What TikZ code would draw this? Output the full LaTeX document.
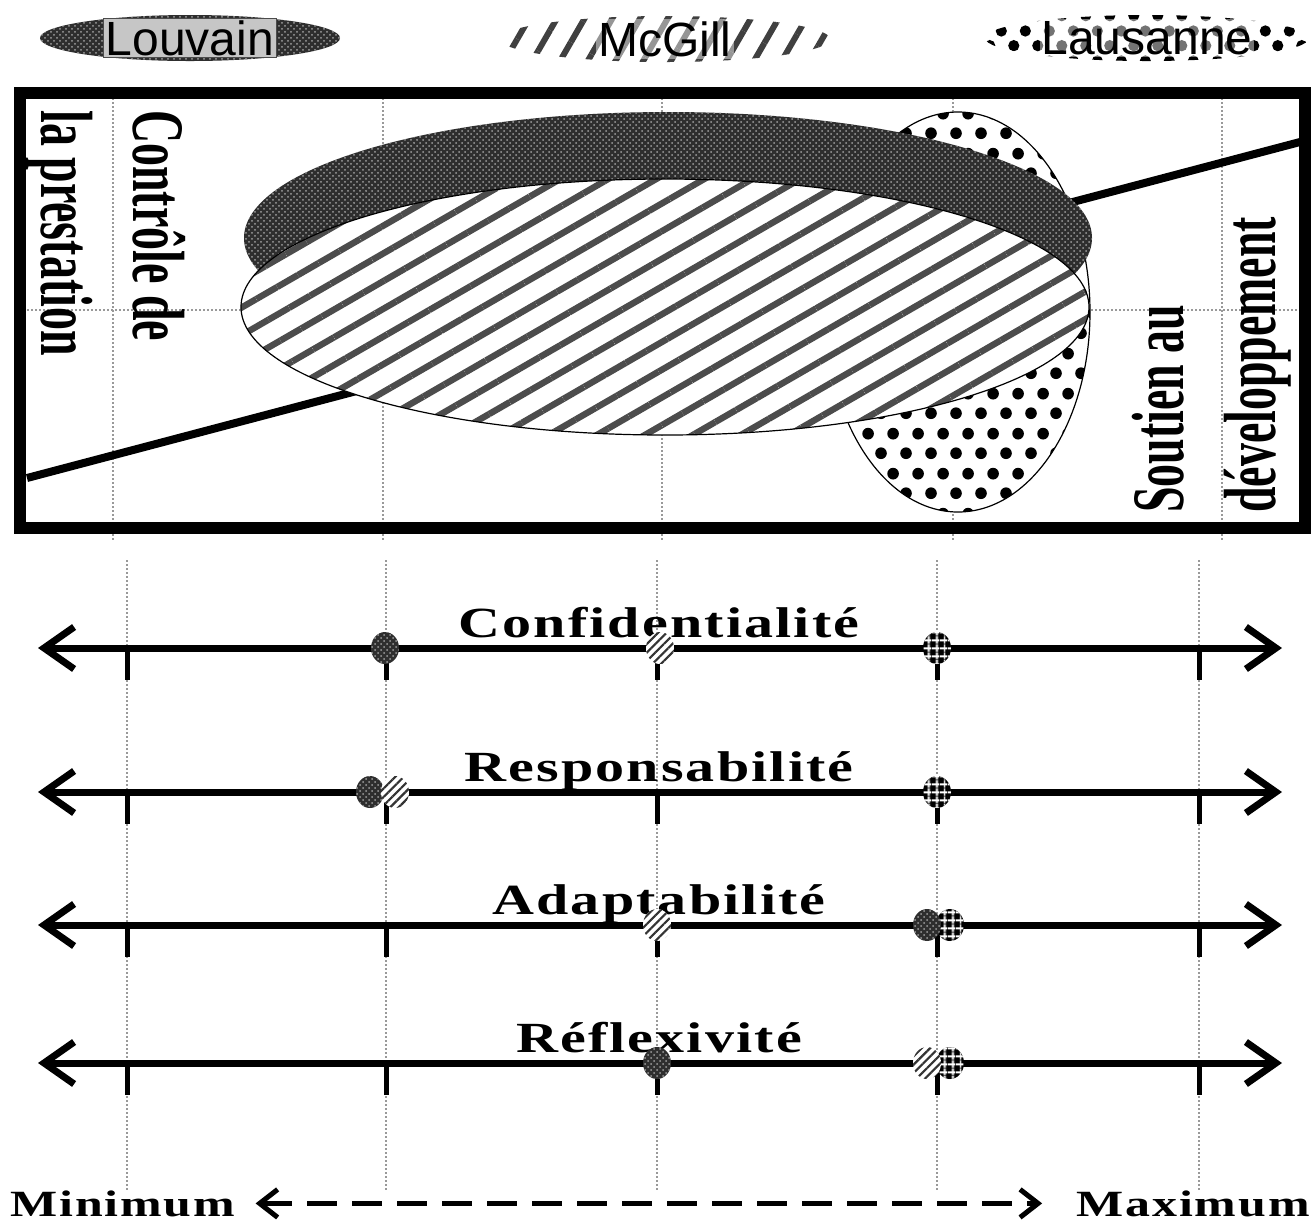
\documentclass[tikz,border=0pt]{standalone}
\usepackage{fontspec}
\setmainfont{Liberation Serif}
\newfontfamily\legfont{Liberation Sans}
\newfontfamily\tallfont[FakeStretch=0.62]{Liberation Serif Bold}
\newfontfamily\widefont[FakeStretch=1.35,LetterSpace=5]{Liberation Serif Bold}
\usepackage{tikz}
\usetikzlibrary{arrows.meta,patterns,patterns.meta,shapes.geometric}

\tikzdeclarepattern{name=bigdots,type=uncolored,
  bounding box={(0pt,0pt) and (12.5pt,20pt)},tile size={(12.5pt,20pt)},
  code={\fill (3.125pt,5pt) circle (3pt); \fill (9.375pt,15pt) circle (3pt);}}
\tikzdeclarepattern{name=meddots,type=uncolored,
  bounding box={(0pt,0pt) and (12pt,15pt)},tile size={(12pt,15pt)},
  code={\fill (3pt,3.75pt) circle (2.9pt); \fill (9pt,11.25pt) circle (2.9pt);}}

\tikzset{
  louv/.style={preaction={fill=black!82},pattern=crosshatch dots,pattern color=gray!75},
  mcgbig/.style={preaction={fill=white},pattern={Lines[angle=30,distance=12pt,line width=3.2pt]},pattern color=black!70,draw=black,line width=.6pt},
  lausbig/.style={preaction={fill=white},pattern=bigdots,pattern color=black,draw=black,line width=.6pt},
  mcgleg/.style={pattern={Lines[angle=60,distance=12pt,line width=3pt]},pattern color=black!75},
  lausleg/.style={pattern=meddots,pattern color=black},
  dotlouv/.style={louv},
  dotmcg/.style={preaction={fill=white},pattern={Lines[angle=45,distance=3pt,line width=1.1pt]},pattern color=black!80},
  dotlaus/.style={preaction={fill=black},pattern={Lines[angle=0,distance=4pt,line width=1pt]},pattern color=white,
    postaction={pattern={Lines[angle=90,distance=4pt,line width=1pt]},pattern color=white}},
  gridline/.style={gray!80,line width=1pt,densely dotted},
  axis/.style={line width=3.5pt,>={Straight Barb[length=15pt,width=21pt]},<->},
  tick/.style={line width=2.5pt},
  scalearrow/.style={line width=2.5pt,dash pattern=on 15pt off 7.5pt,>={Straight Barb[length=9pt,width=14pt]},<->,
    shorten <=10pt,shorten >=17pt},
  axlabel/.style={font=\widefont\fontsize{21.5}{24}\selectfont,inner sep=0pt},
  endlabel/.style={font=\widefont\fontsize{18.5}{21}\selectfont,inner sep=0pt},
  boxtext/.style={font=\tallfont\fontsize{37}{46}\selectfont,align=left,inner sep=0pt},
  legell/.style={ellipse,minimum width=#1,minimum height=23pt,inner sep=0pt},
  legtext/.style={font=\legfont\fontsize{24}{26}\selectfont,inner sep=1pt},
  veil/.style={fill=white,fill opacity=.45,text opacity=1}
}

\begin{document}
\begin{tikzpicture}[x=0.5pt,y=-0.5pt]
  \useasboundingbox (0,0) rectangle (1312,1223);
  % legend
  \node[legell=150pt,louv] (leg-louv) at (190,38) {};
  \node[legtext,fill=gray!45,draw=black!70,line width=.5pt] (louvain) at (leg-louv) {Louvain};
  \node[legell=165pt,mcgleg] (leg-mcg) at (665,39) {};
  \node[legtext,veil] (mcgill) at (leg-mcg) {McGill};
  \node[legell=162pt,lausleg] (leg-laus) at (1147,38) {};
  \node[legtext,veil] (lausanne) at (leg-laus) {Lausanne};

  % frame with the three profiles
  \foreach \gx in {113,383,662,953,1222} \draw[gridline] (\gx,98) -- (\gx,540);
  \draw[gridline] (27,310) -- (1300,310);
  \draw[line width=4pt] (27,478) -- (1300,142);
  \draw[lausbig] (958,312) ellipse [x radius=132,y radius=200];
  \fill[louv] (668,238) ellipse [x radius=424,y radius=126];
  \draw[mcgbig] (665,307) ellipse [x radius=424,y radius=128];
  \node[boxtext,rotate=-90,anchor=west] (controle) at (106,110) {Contrôle de\\la prestation};
  \node[boxtext,rotate=90,anchor=west] (soutien) at (1212,513) {Soutien au\\développement};
  \draw[line width=6pt] (20,93) rectangle (1305,528);

  % scales
  \foreach \gx in {127,386,657,937,1199} \draw[gridline] (\gx,560) -- (\gx,1190);
  \foreach \ay/\aname/\alabel in {648/conf/Confidentialité,792/resp/Responsabilité,925/adap/Adaptabilité,1063/refl/Réflexivité}{
    \coordinate (\aname-l) at (38,\ay);
    \coordinate (\aname-r) at (1282,\ay);
    \foreach \tx in {127,386,657,937,1199} \draw[tick] (\tx,\ay) -- ++(0,32);
    \draw[axis] (\aname-l) -- (\aname-r);
    \node[axlabel,anchor=base] (\aname) at (659,\ay-11) {\alabel};
  }
  \foreach \mx/\my in {937/648,937/792,950/925,950/1063}
    \path[dotlaus] (\mx,\my) ellipse [x radius=14,y radius=16];
  \foreach \mx/\my in {385/648,370/792,927/925,657/1063}
    \path[dotlouv] (\mx,\my) ellipse [x radius=14,y radius=16];
  \foreach \mx/\my in {660/648,395/792,657/925,927/1063}
    \path[dotmcg] (\mx,\my) ellipse [x radius=14,y radius=16];

  \node[endlabel,anchor=base west] (minimum) at (10,1216) {Minimum};
  \node[endlabel,anchor=base east] (maximum) at (1310,1216) {Maximum};
  \draw[scalearrow] (minimum) -- (maximum);
\end{tikzpicture}
\end{document}
